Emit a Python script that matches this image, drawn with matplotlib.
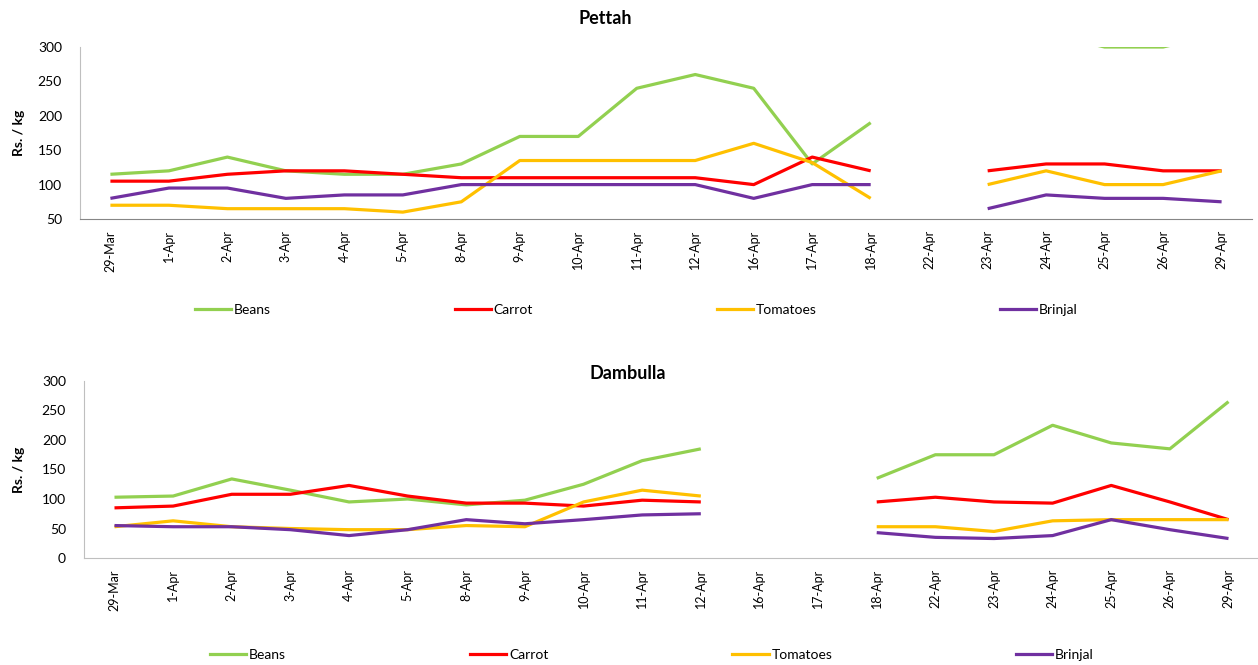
import numpy as np
import matplotlib
matplotlib.use("Agg")
import matplotlib.pyplot as plt
from matplotlib.lines import Line2D

plt.rcParams['font.family'] = ['Lato', 'DejaVu Sans']

dates = ["29-Mar", "1-Apr", "2-Apr", "3-Apr", "4-Apr", "5-Apr", "8-Apr", "9-Apr",
         "10-Apr", "11-Apr", "12-Apr", "16-Apr", "17-Apr", "18-Apr", "22-Apr",
         "23-Apr", "24-Apr", "25-Apr", "26-Apr", "29-Apr"]
nan = np.nan

# Pettah
pettah_beans = [115, 120, 140, 120, 115, 115, 130, 170, 170, 240, 260, 240, 130, 190, nan,
                320, 320, 300, 300, 320]
pettah_carrot = [105, 105, 115, 120, 120, 115, 110, 110, 110, 110, 110, 100, 140, 120, nan,
                 120, 130, 130, 120, 120]
pettah_tomatoes = [70, 70, 65, 65, 65, 60, 75, 135, 135, 135, 135, 160, 132, 80, nan,
                   100, 120, 100, 100, 120]
pettah_brinjal = [80, 95, 95, 80, 85, 85, 100, 100, 100, 100, 100, 80, 100, 100, nan,
                  65, 85, 80, 80, 75]

# Dambulla
dambulla_beans = [103, 105, 134, 115, 95, 100, 90, 98, 125, 165, 185, nan, nan,
                  135, 175, 175, 225, 195, 185, 265]
dambulla_carrot = [85, 88, 108, 108, 123, 105, 93, 93, 88, 98, 95, nan, nan,
                   95, 103, 95, 93, 123, 95, 65]
dambulla_tomatoes = [53, 63, 53, 50, 48, 48, 55, 53, 95, 115, 105, nan, nan,
                     53, 53, 45, 63, 65, 65, 65]
dambulla_brinjal = [55, 53, 53, 48, 38, 48, 65, 58, 65, 73, 75, nan, nan,
                    43, 35, 33, 38, 65, 48, 33]

series_names = ["Beans", "Carrot", "Tomatoes", "Brinjal"]
colors = ["#92D050", "#FF0000", "#FFC000", "#7030A0"]

W, H = 1258, 665
fig = plt.figure(figsize=(W / 100, H / 100), dpi=100)

def fx(px):
    return px / W

def fy(py):
    return 1 - py / H

def draw(ax, data, ylim, yticks, spine_color):
    x = np.arange(len(dates))
    for vals, c, n in zip(data, colors, series_names):
        ax.plot(x, vals, color=c, lw=2.3, label=n, solid_capstyle='butt')
    ax.set_xlim(-0.52, len(dates) - 0.48)
    ax.set_ylim(*ylim)
    ax.set_yticks(yticks)
    ax.set_xticks(x)
    ax.set_xticklabels(dates, rotation=90, fontsize=9)
    ax.tick_params(axis='y', labelsize=10, length=0, pad=13)
    ax.tick_params(axis='x', length=0, pad=8)
    for s in ['top', 'right']:
        ax.spines[s].set_visible(False)
    ax.spines['left'].set_color('#BFBFBF')
    ax.spines['bottom'].set_color(spine_color)
    ax.set_ylabel("Rs. / kg", fontsize=10, fontweight='bold')

# Top chart
ax1 = fig.add_axes([fx(80), fy(219), fx(1252 - 80), (219 - 47) / H])
draw(ax1, [pettah_beans, pettah_carrot, pettah_tomatoes, pettah_brinjal],
     (50, 300), [50, 100, 150, 200, 250, 300], '#868686')
ax1.yaxis.set_label_coords(-0.047, 0.5)
fig.text(fx(605), fy(18), "Pettah", ha='center', va='center', fontsize=13, fontweight='bold')

# Bottom chart
ax2 = fig.add_axes([fx(84), fy(558), fx(1259 - 84), (558 - 381) / H])
draw(ax2, [dambulla_beans, dambulla_carrot, dambulla_tomatoes, dambulla_brinjal],
     (0, 300), [0, 50, 100, 150, 200, 250, 300], '#BFBFBF')
ax2.yaxis.set_label_coords(-0.050, 0.5)
fig.text(fx(628), fy(373), "Dambulla", ha='center', va='center', fontsize=13, fontweight='bold')

def add_legend(y_center, x0, x1):
    handles = [Line2D([0], [0], color=c, lw=2.3) for c in colors]
    fig.legend(handles, series_names, loc='center left',
               bbox_to_anchor=(fx(x0), fy(y_center), fx(x1 - x0), 0.0),
               mode='expand', ncol=4, frameon=False, fontsize=10,
               handlelength=2.6, handletextpad=0.2, borderaxespad=0, borderpad=0)

add_legend(310, 195, 1078)
add_legend(655, 210, 1094)

fig.savefig("out.png", dpi=100)
